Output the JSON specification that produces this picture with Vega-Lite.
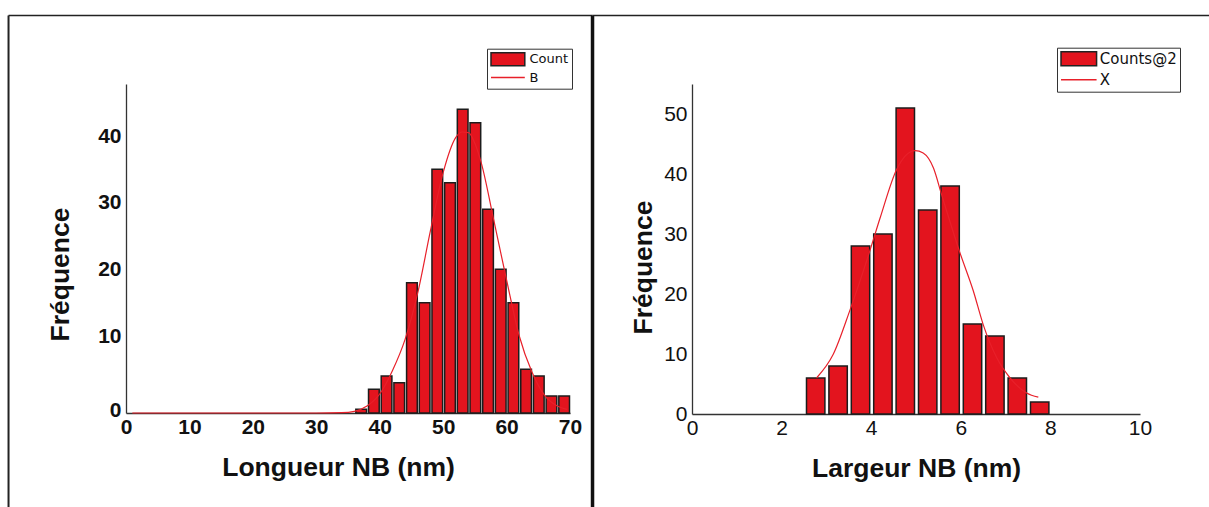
{
  "$schema": "https://vega.github.io/schema/vega-lite/v6.json",
  "background": "white",
  "padding": {"left": 7, "top": 13, "right": 0, "bottom": 0},
  "bounds": "flush",
  "spacing": 122,
  "config": {
    "view": {"stroke": null},
    "font": "Liberation Sans",
    "axis": {"grid": false, "ticks": false, "domainColor": "#333", "domainWidth": 1.3, "labelColor": "#111", "titleColor": "#111", "labelFont": "Liberation Sans", "titleFont": "Liberation Sans", "labelOverlap": false, "labelFlush": false}
  },
  "resolve": {"scale": {"fill": "independent", "stroke": "independent", "x": "independent", "y": "independent"}, "legend": {"fill": "independent", "stroke": "independent"}},
  "hconcat": [
    {
      "width": 444,
      "height": 329,
      "layer": [
        {
          "data": {"values": [
            {"bin_start": 36, "bin_end": 38, "count": -1},
            {"bin_start": 38, "bin_end": 40, "count": 2},
            {"bin_start": 40, "bin_end": 42, "count": 4},
            {"bin_start": 42, "bin_end": 44, "count": 3},
            {"bin_start": 44, "bin_end": 46, "count": 18},
            {"bin_start": 46, "bin_end": 48, "count": 15},
            {"bin_start": 48, "bin_end": 50, "count": 35},
            {"bin_start": 50, "bin_end": 52, "count": 33},
            {"bin_start": 52, "bin_end": 54, "count": 44},
            {"bin_start": 54, "bin_end": 56, "count": 42},
            {"bin_start": 56, "bin_end": 58, "count": 29},
            {"bin_start": 58, "bin_end": 60, "count": 20},
            {"bin_start": 60, "bin_end": 62, "count": 15},
            {"bin_start": 62, "bin_end": 64, "count": 5},
            {"bin_start": 64, "bin_end": 66, "count": 4},
            {"bin_start": 66, "bin_end": 68, "count": 1},
            {"bin_start": 68, "bin_end": 70, "count": 1}
          ]},
          "mark": {"type": "bar", "stroke": "#1c1c1c", "strokeWidth": 1.5, "binSpacing": 2},
          "encoding": {
            "x": {"field": "bin_start", "type": "quantitative", "bin": "binned",
              "scale": {"domain": [0, 70], "nice": false, "zero": false},
              "axis": {"values": [0, 10, 20, 30, 40, 50, 60, 70], "format": "d", "title": "Longueur NB (nm)", "labelFontSize": 21, "labelFontWeight": "bold", "labelPadding": 3, "titleFontSize": 26.5, "titleFontWeight": "bold", "titleX": 212, "titleY": 54, "titleBaseline": "middle", "titleAlign": "center"}},
            "x2": {"field": "bin_end"},
            "y": {"field": "count", "type": "quantitative",
              "scale": {"domain": [-1.55, 47.8], "nice": false, "zero": false},
              "axis": {"values": [0, 10, 20, 30, 40], "title": "Fréquence", "labelFontSize": 21, "labelFontWeight": "bold", "labelPadding": 5, "labelOffset": {"condition": {"test": "datum.value === 0", "value": 8}, "value": 0}, "titleFontSize": 26.5, "titleFontWeight": "bold", "titleX": -66, "titleY": 190, "titleBaseline": "middle", "titleAlign": "center", "titleAngle": 270}},
            "y2": {"datum": -1.55},
            "fill": {"datum": "Count", "type": "nominal",
              "scale": {"domain": ["Count"], "range": ["#E3141E"]},
              "legend": {"orient": "none", "legendX": 361, "legendY": -35.3, "title": "\u00a0", "titleOrient": "bottom", "titleFontSize": 13, "titlePadding": 3.4, "padding": 3, "strokeColor": "#333", "fillColor": "white", "symbolSize": 169, "symbolType": "M-2.6,-1H2.6V1H-2.6Z", "symbolOffset": 10.4, "symbolStrokeWidth": 1.5, "symbolStrokeColor": "#222", "labelFont": "DejaVu Sans", "labelFontSize": 13, "labelColor": "#111", "labelOffset": 14}}
          }
        },
        {
          "data": {"values": [
            {"x": 1, "fit": -1.55}, {"x": 10, "fit": -1.55}, {"x": 20, "fit": -1.55}, {"x": 30, "fit": -1.55},
            {"x": 34, "fit": -1.5}, {"x": 36, "fit": -1.3}, {"x": 38, "fit": -0.5}, {"x": 40, "fit": 1.3},
            {"x": 42, "fit": 4.8}, {"x": 44, "fit": 9.5}, {"x": 46, "fit": 16.5}, {"x": 48, "fit": 25.8},
            {"x": 50, "fit": 34.5}, {"x": 52, "fit": 39.8}, {"x": 53, "fit": 40.6}, {"x": 54, "fit": 40.5},
            {"x": 55, "fit": 38.9}, {"x": 56, "fit": 36}, {"x": 58, "fit": 27.3}, {"x": 60, "fit": 18.4},
            {"x": 62, "fit": 10}, {"x": 64, "fit": 4.6}, {"x": 66, "fit": 1.1}, {"x": 68, "fit": -0.5},
            {"x": 69.5, "fit": -1.0}
          ]},
          "mark": {"type": "line", "strokeWidth": 1.2, "interpolate": "monotone"},
          "encoding": {
            "x": {"field": "x", "type": "quantitative"},
            "y": {"field": "fit", "type": "quantitative"},
            "stroke": {"datum": "B", "type": "nominal",
              "scale": {"domain": ["B"], "range": ["#E8202A"]},
              "legend": {"orient": "none", "legendX": 361, "legendY": -35.3, "title": "\u00a0", "titleOrient": "top", "titleFontSize": 13, "titlePadding": 5.4, "padding": 3, "strokeColor": null, "fillColor": null, "symbolSize": 169, "symbolType": "M-2.6,0H2.6", "symbolOffset": 10.4, "symbolStrokeWidth": 1.5, "labelFont": "DejaVu Sans", "labelFontSize": 13, "labelColor": "#111", "labelOffset": 14}}
          }
        },
        {
          "data": {"values": [{}]},
          "mark": {"type": "rule", "color": "#222", "strokeWidth": 2},
          "encoding": {"x": {"datum": -18.52}, "y": {"datum": 58.07}, "y2": {"datum": -17}}
        },
        {
          "data": {"values": [{}]},
          "mark": {"type": "rule", "color": "#222", "strokeWidth": 1.5},
          "encoding": {"x": {"datum": -18.52}, "x2": {"datum": 73.55}, "y": {"datum": 58.07}}
        },
        {
          "data": {"values": [{}]},
          "mark": {"type": "rule", "color": "#111", "strokeWidth": 3.5},
          "encoding": {"x": {"datum": 73.55}, "y": {"datum": 58.07}, "y2": {"datum": -17}}
        }
      ]
    },
    {
      "width": 448,
      "height": 330,
      "layer": [
        {
          "data": {"values": [
            {"bin_start": 2.5, "bin_end": 3.0, "count": 6},
            {"bin_start": 3.0, "bin_end": 3.5, "count": 8},
            {"bin_start": 3.5, "bin_end": 4.0, "count": 28},
            {"bin_start": 4.0, "bin_end": 4.5, "count": 30},
            {"bin_start": 4.5, "bin_end": 5.0, "count": 51},
            {"bin_start": 5.0, "bin_end": 5.5, "count": 34},
            {"bin_start": 5.5, "bin_end": 6.0, "count": 38},
            {"bin_start": 6.0, "bin_end": 6.5, "count": 15},
            {"bin_start": 6.5, "bin_end": 7.0, "count": 13},
            {"bin_start": 7.0, "bin_end": 7.5, "count": 6},
            {"bin_start": 7.5, "bin_end": 8.0, "count": 2}
          ]},
          "mark": {"type": "bar", "stroke": "#1c1c1c", "strokeWidth": 1.5, "binSpacing": 4},
          "encoding": {
            "x": {"field": "bin_start", "type": "quantitative", "bin": "binned",
              "scale": {"domain": [0, 10], "nice": false, "zero": false},
              "axis": {"values": [0, 2, 4, 6, 8, 10], "format": "d", "title": "Largeur NB (nm)", "labelFontSize": 21, "labelFontWeight": "normal", "labelPadding": 3, "titleFontSize": 26.5, "titleFontWeight": "bold", "titleX": 224, "titleY": 54, "titleBaseline": "middle", "titleAlign": "center"}},
            "x2": {"field": "bin_end"},
            "y": {"field": "count", "type": "quantitative",
              "scale": {"domain": [0, 55], "nice": false, "zero": false},
              "axis": {"values": [0, 10, 20, 30, 40, 50], "title": "Fréquence", "labelFontSize": 21, "labelFontWeight": "normal", "labelPadding": 5, "titleFontSize": 26.5, "titleFontWeight": "bold", "titleX": -49, "titleY": 183, "titleBaseline": "middle", "titleAlign": "center", "titleAngle": 270}},
            "fill": {"datum": "Counts@2", "type": "nominal",
              "scale": {"domain": ["Counts@2"], "range": ["#E3141E"]},
              "legend": {"orient": "none", "legendX": 365, "legendY": -36.3, "title": "\u00a0", "titleOrient": "bottom", "titleFontSize": 15, "titlePadding": 4.5, "padding": 3, "strokeColor": "#333", "fillColor": "white", "symbolSize": 196, "symbolType": "M-2.54,-1H2.54V1H-2.54Z", "symbolOffset": 10.8, "symbolStrokeWidth": 1.5, "symbolStrokeColor": "#222", "labelFont": "DejaVu Sans", "labelFontSize": 15, "labelColor": "#111", "labelOffset": 13}}
          }
        },
        {
          "data": {"values": [
            {"x": 2.78, "fit": 6.0}, {"x": 3.15, "fit": 9.9}, {"x": 3.53, "fit": 17.4}, {"x": 3.97, "fit": 27.2},
            {"x": 4.2, "fit": 32.7}, {"x": 4.57, "fit": 40.8}, {"x": 4.98, "fit": 43.9}, {"x": 5.16, "fit": 43.5},
            {"x": 5.39, "fit": 41}, {"x": 5.57, "fit": 36.6}, {"x": 5.98, "fit": 26.9}, {"x": 6.28, "fit": 20.5},
            {"x": 6.5, "fit": 14.9}, {"x": 6.8, "fit": 9.4}, {"x": 7.1, "fit": 6.0}, {"x": 7.47, "fit": 3.5},
            {"x": 7.73, "fit": 2.8}
          ]},
          "mark": {"type": "line", "strokeWidth": 1.2, "interpolate": "monotone"},
          "encoding": {
            "x": {"field": "x", "type": "quantitative"},
            "y": {"field": "fit", "type": "quantitative"},
            "stroke": {"datum": "X", "type": "nominal",
              "scale": {"domain": ["X"], "range": ["#E8202A"]},
              "legend": {"orient": "none", "legendX": 365, "legendY": -36.3, "title": "\u00a0", "titleOrient": "top", "titleFontSize": 15, "titlePadding": 6, "padding": 3, "strokeColor": null, "fillColor": null, "symbolSize": 196, "symbolType": "M-2.54,0H2.54", "symbolOffset": 10.8, "symbolStrokeWidth": 1.5, "labelFont": "DejaVu Sans", "labelFontSize": 15, "labelColor": "#111", "labelOffset": 13}}
          }
        },
        {
          "data": {"values": [{}]},
          "mark": {"type": "rule", "color": "#222", "strokeWidth": 1.5},
          "encoding": {"x": {"datum": -2.22}, "x2": {"datum": 11.6}, "y": {"datum": 66.42}}
        }
      ]
    }
  ]
}
